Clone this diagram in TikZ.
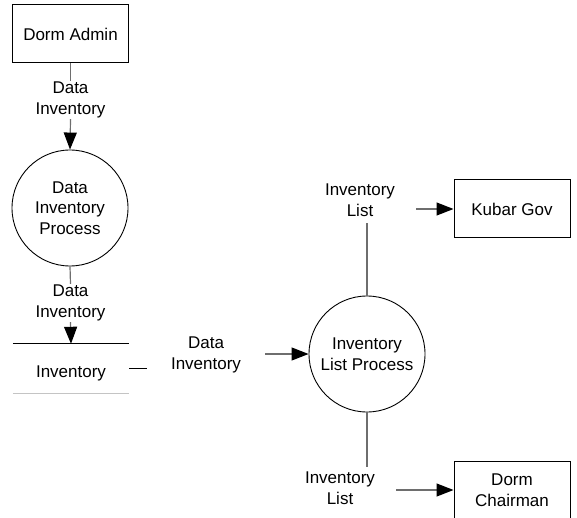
\documentclass[tikz,border=0pt]{standalone}
\usepackage{fontspec}
\setmainfont{Liberation Sans}
\usetikzlibrary{arrows.meta}
\definecolor{linkgray}{HTML}{6E6E6E}
\definecolor{storegray}{HTML}{C4C4C4}
\begin{document}
\begin{tikzpicture}[x=1pt,y=-1pt,
  every node/.style={font=\fontsize{17}{20.5}\selectfont, text=black},
  entity/.style={draw=black, line width=1pt, minimum width=116pt, minimum height=58pt, inner sep=0pt, align=center},
  process/.style={circle, draw=black, line width=0.9pt, minimum size=116pt, inner sep=0pt, align=center},
  datastore/.style={minimum width=116pt, minimum height=49pt, inner sep=0pt},
  flowlbl/.style={align=center, inner sep=1pt},
  link/.style={draw=linkgray, line width=1.2pt},
  flow/.style={link, -{Triangle[length=17pt,width=13pt,color=black]}}
]
\useasboundingbox (0,0) rectangle (577,518);
\clip (0,0) rectangle (577,518);

% external entities
\node[entity] (admin) at (70.5,34) {Dorm Admin};
\node[entity] (kubar) at (512,209) {Kubar Gov};
\node[entity] (chair) at (512,490) {Dorm\\Chairman};

% processes
\node[process] (p1) at (70,208) {Data\\Inventory\\Process};
\node[process] (p2) at (367,354) {Inventory\\List Process};

% data store
\node[datastore, label={[yshift=-5pt]center:Inventory}] (store) at (71,368.5) {};
\draw[black, line width=1pt] (store.north west) -- (store.north east);
\draw[storegray, line width=1pt] (store.south west) -- (store.south east);

% flow labels
\node[flowlbl] (l1) at (70.5,100) {Data\\Inventory};
\node[flowlbl] (l2) at (70.5,303) {Data\\Inventory};
\node[flowlbl] (l3) at (206,355) {Data\\Inventory};
\node[flowlbl] (l4) at (360,200) {Inventory\\List};
\node[flowlbl] (l5) at (340,488) {Inventory\\List};

% free connector ends
\coordinate (s1) at (147,368.5);
\coordinate (a3) at (265,354);
\coordinate (e4) at (367,223);
\coordinate (a4) at (416,209);
\coordinate (e5) at (367,467);
\coordinate (a5) at (396,490);

% data flows
\draw[link] (admin.south) -- (l1.north);
\draw[flow] (l1.south) -- (p1.north);
\draw[link] (p1.south) -- (l2.north);
\draw[flow] (l2.south) -- (store.north);
\draw[link, draw=black, line width=1pt] (store.east) -- (s1);
\draw[flow] (a3) -- (p2.west);
\draw[link] (p2.north) -- (e4);
\draw[flow] (a4) -- (kubar.west);
\draw[link] (p2.south) -- (e5);
\draw[flow] (a5) -- (chair.west);
\end{tikzpicture}
\end{document}
